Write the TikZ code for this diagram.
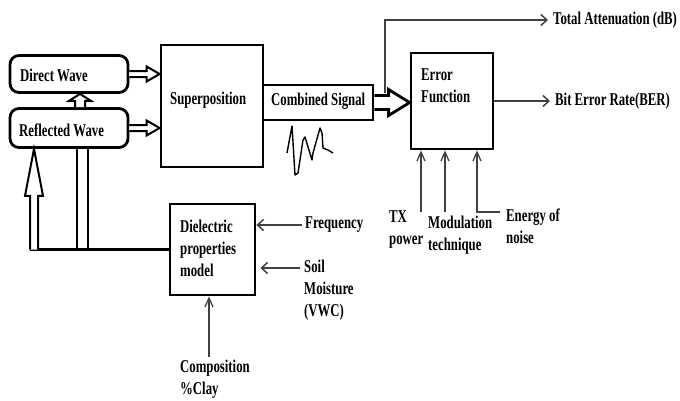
\documentclass[tikz,border=0pt]{standalone}
\usepackage{fontspec}
\setmainfont{Liberation Serif}[FakeStretch=0.71]
\usetikzlibrary{calc,arrows.meta}
\newcommand\harrow[6][1.8pt]{%
  \draw[line width=#1, fill=white] let \p1=(#2), \p2=(#3) in
    (\x1,\y1+#4pt) -- (\x2-#6pt,\y1+#4pt) -- (\x2-#6pt,\y1+#5pt) -- (\x2,\y1)
    -- (\x2-#6pt,\y1-#5pt) -- (\x2-#6pt,\y1-#4pt) -- (\x1,\y1-#4pt);}
\newcommand\varrow[6][1.8pt]{%
  \draw[line width=#1, fill=white] let \p1=(#2), \p2=(#3) in
    (\x1-#4pt,\y1) -- (\x1-#4pt,\y2-#6pt) -- (\x1-#5pt,\y2-#6pt) -- (\x1,\y2)
    -- (\x1+#5pt,\y2-#6pt) -- (\x1+#4pt,\y2-#6pt) -- (\x1+#4pt,\y1);}
\begin{document}
\begin{tikzpicture}[x=1pt,y=-1pt,
  box/.style={draw, line width=2.8pt, inner sep=0pt},
  txt/.style={font=\fontsize{18}{22}\selectfont\bfseries, inner sep=0pt, align=left, anchor=west},
  thinl/.style={line width=1.2pt, draw=black!75},
  tip/.style={-{Straight Barb[length=6pt,width=11pt,line width=1.5pt]}},
  uptip/.style={-{Straight Barb[length=9pt,width=8pt,line width=1.3pt]}},
]
\useasboundingbox[fill=white] (0,0) rectangle (680,400);

% boxes
\node[box, rounded corners=9pt, minimum width=118pt, minimum height=37pt] (dw) at (69,74) {};
\node[box, rounded corners=9pt, minimum width=118pt, minimum height=39pt] (rw) at (69,128) {};
\node[box, minimum width=102pt, minimum height=122pt] (sp) at (212,106) {};
\node[box, minimum width=110pt, minimum height=35pt] (cs) at (318,102.5) {};
\node[box, minimum width=82pt, minimum height=96pt] (ef) at (452,101) {};
\node[box, minimum width=85pt, minimum height=91pt] (dp) at (212.5,249.5) {};

% texts
\node[txt] (dwt) at (20,75) {Direct Wave};
\node[txt] (rwt) at (19,130) {Reflected Wave};
\node[txt] (spt) at (170,100) {Superposition};
\node[txt] (cst) at (271,101) {Combined Signal};
\node[txt] (eft) at (421,86) {Error\\Function};
\node[txt] (ta) at (553,20) {Total Attenuation (dB)};
\node[txt] (ber) at (555,101) {Bit Error Rate(BER)};
\node[txt] (tx) at (389,230) {TX\\power};
\node[txt] (mod) at (428,235) {Modulation\\technique};
\node[txt] (en) at (506,226) {Energy of\\noise};
\node[txt] (dpt) at (180,248) {Dielectric\\properties\\model};
\node[txt] (fr) at (305,225) {Frequency};
\node[txt] (sm) at (304,290) {Soil\\Moisture\\(VWC)};
\node[txt] (co) at (180,379) {Composition\\\%Clay};

% hollow arrows
\harrow[2pt]{dw.east}{sp.west}{3}{7.5}{13}
\harrow[2pt]{rw.east}{sp.west}{3}{7.5}{13}
\harrow[2.8pt]{cs.east}{ef.west}{7}{13}{21}
\varrow[2pt]{[xshift=11pt]rw.north}{[xshift=11pt]dw.south}{5}{11}{7}

% dielectric feedback
\coordinate (jl) at (34,249.5);
\draw[line width=2.6pt] (dp.west) -- (30,249.5);
\varrow[2pt]{jl}{jl |- rw.south}{4}{9}{47}
\draw[line width=2.2pt] (77,249.5) -- (77,147.5) (88,249.5) -- (88,147.5);

% thin arrows
\coordinate (tb) at (385,93);
\draw[thinl,tip] (tb) |- ([xshift=-5pt]ta.west);
\draw[thinl,tip] (ef.east |- ber.west) -- ([xshift=-5pt]ber.west);
\coordinate (i1) at (421,212);
\coordinate (i2) at (445,212);
\coordinate (i3) at (477,212);
\coordinate (i3e) at (500,212);
\draw[thinl,uptip] (i1) -- (i1 |- ef.south);
\draw[thinl,uptip] (i2) -- (i2 |- ef.south);
\draw[thinl,uptip] (i3e) -- (i3) -- (i3 |- ef.south);
\coordinate (f0) at (302,225);
\coordinate (s0) at (300,268);
\coordinate (c0) at (209,357);
\draw[thinl,tip] (f0) -- (dp.east |- f0);
\draw[thinl,tip] (s0) -- ([xshift=4pt]dp.east |- s0);
\draw[thinl,uptip] (c0) -- (c0 |- dp.south);

% waveform
\draw[line width=1.4pt, line join=round] (287,153) -- (292,126) -- (295,175) -- (298,173) -- (303,140)
  -- (305,137) -- (312,160) -- (313,153) -- (320,128) -- (322,133) -- (323,148) -- (328,150) -- (333,153);
\end{tikzpicture}
\end{document}
